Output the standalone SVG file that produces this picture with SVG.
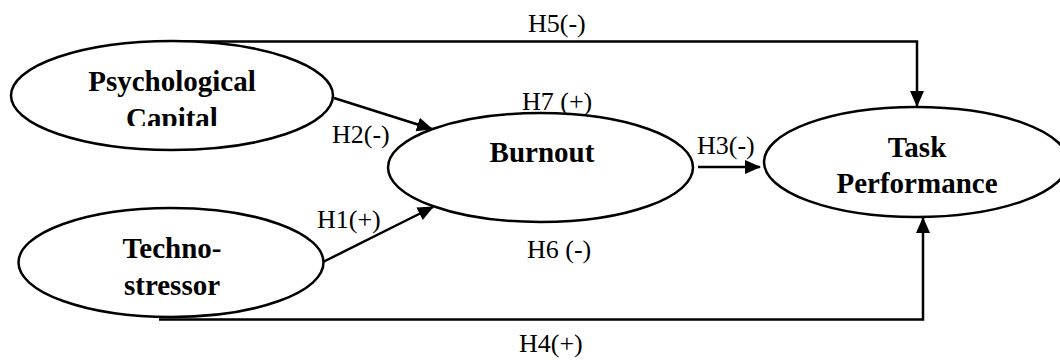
<svg xmlns="http://www.w3.org/2000/svg" width="1060" height="360" viewBox="0 0 1060 360">
  <style>
    .node { fill: #fff; stroke: #000; stroke-width: 2.5; }
    .name { font-family: "Liberation Serif", serif; font-weight: bold; font-size: 29px; fill: #000; text-anchor: middle; }
    .edge { fill: none; stroke: #000; stroke-width: 2.5; }
    .hyp { font-family: "Liberation Serif", serif; font-size: 26px; fill: #000; }
  </style>
  <defs>
    <marker id="arrow" markerUnits="userSpaceOnUse" markerWidth="16" markerHeight="16" viewBox="0 0 16 16" refX="15" refY="8" orient="auto">
      <path d="M0,1 L16,8 L0,15 Z" fill="#000"/>
    </marker>
    <clipPath id="capClip">
      <rect x="0" y="60" width="340" height="66"/>
    </clipPath>
  </defs>

  <!-- connectors -->
  <g id="connectors">
    <path class="edge" d="M172,41.5 H917 V106" marker-end="url(#arrow)"/>
    <path class="edge" d="M159,319.5 H923 V218" marker-end="url(#arrow)"/>
    <line class="edge" x1="334" y1="98" x2="432" y2="129" marker-end="url(#arrow)"/>
    <line class="edge" x1="323" y1="262" x2="433" y2="207" marker-end="url(#arrow)"/>
    <line class="edge" x1="698" y1="167" x2="760" y2="167" marker-end="url(#arrow)"/>
  </g>

  <!-- nodes -->
  <g id="psychological-capital">
    <ellipse class="node" cx="172" cy="95.5" rx="161" ry="54.5"/>
    <g clip-path="url(#capClip)">
      <text class="name" x="172" y="91">Psychological</text>
      <text class="name" x="172" y="128">Capital</text>
    </g>
  </g>
  <g id="techno-stressor">
    <ellipse class="node" cx="171" cy="262.5" rx="152.5" ry="54.5"/>
    <text class="name" x="172" y="258">Techno-</text>
    <text class="name" x="172" y="295">stressor</text>
  </g>
  <g id="burnout">
    <ellipse class="node" cx="540.5" cy="167.5" rx="152.5" ry="54.5"/>
    <text class="name" x="542" y="162">Burnout</text>
  </g>
  <g id="task-performance">
    <ellipse class="node" cx="916" cy="162" rx="152" ry="55"/>
    <text class="name" x="917" y="157">Task</text>
    <text class="name" x="917" y="193">Performance</text>
  </g>

  <!-- hypothesis labels -->
  <g id="labels">
    <text class="hyp" x="528" y="32">H5(-)</text>
    <text class="hyp" x="522" y="110">H7 (+)</text>
    <text class="hyp" x="332" y="143">H2(-)</text>
    <text class="hyp" x="697" y="154">H3(-)</text>
    <text class="hyp" x="317" y="228">H1(+)</text>
    <text class="hyp" x="527" y="258">H6 (-)</text>
    <text class="hyp" x="519" y="352">H4(+)</text>
  </g>
</svg>
